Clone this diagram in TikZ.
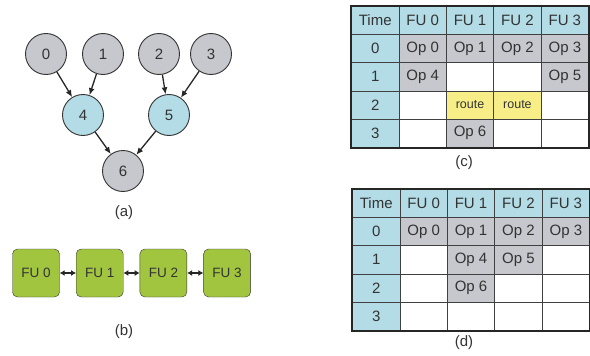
\documentclass[tikz,border=0pt]{standalone}
\usepackage{fontspec}
\setmainfont{Liberation Sans}
\usetikzlibrary{positioning,matrix,arrows.meta}
\definecolor{opgray}{HTML}{C7C8CD}
\definecolor{tmblue}{HTML}{B3DCE6}
\definecolor{rtyellow}{HTML}{F8EE88}
\definecolor{fugreen}{HTML}{A2C540}
\definecolor{inkgray}{HTML}{333333}
\newcommand{\lblfont}{\fontsize{15}{17}\selectfont}
\tikzstyle{vertex} = [draw=inkgray, circle, line width=0.9pt, minimum size=41pt, inner sep=0pt, text=inkgray, font=\lblfont]
\tikzstyle{leafop} = [vertex, fill=opgray]
\tikzstyle{midop} = [vertex, fill=tmblue]
\tikzstyle{fu} = [draw=inkgray, fill=fugreen, rounded corners=5pt, minimum width=47pt, minimum height=48pt, inner sep=0pt, text=inkgray, font=\fontsize{13.5}{15}\selectfont]
\tikzstyle{dep} = [-{Latex[length=7pt,width=6pt]}, line width=1.3pt, draw=black!85]
\tikzstyle{link} = [{Latex[length=5pt,width=6pt]}-{Latex[length=5pt,width=6pt]}, line width=2.2pt, draw=black!85]
\tikzstyle{cell} = [draw=black!75, line width=0.7pt, fill=white, minimum width=47.4pt, minimum height=28.1pt, inner sep=0pt, anchor=center, text=inkgray, font=\lblfont]
\tikzstyle{hd} = [fill=tmblue]
\tikzstyle{op} = [fill=opgray]
\tikzstyle{rt} = [fill=rtyellow, font=\fontsize{12.5}{14}\selectfont]
\tikzstyle{sched} = [matrix of nodes, nodes in empty cells, nodes=cell, column sep=-0.7pt, row sep=-0.7pt, inner sep=0pt, anchor=north west]
\tikzstyle{caption} = [text=inkgray, font=\lblfont]

\begin{document}
\begin{tikzpicture}[x=1pt, y=-1pt, node distance=63.7pt]
        \useasboundingbox (0,0) rectangle (590,356);

        % (a) dataflow graph
        \node [leafop] (n0) at (46,54) {0};
        \node [leafop] (n1) at (103,54) {1};
        \node [leafop] (n2) at (159,54) {2};
        \node [leafop] (n3) at (211,54) {3};
        \node [midop] (n4) at (83,115) {4};
        \node [midop] (n5) at (169,115) {5};
        \node [leafop] (n6) at (123,171) {6};

        \draw [dep] (n0) -- (n4);
        \draw [dep] (n1) -- (n4);
        \draw [dep] (n2) -- (n5);
        \draw [dep] (n3) -- (n5);
        \draw [dep] (n4) -- (n6);
        \draw [dep] (n5) -- (n6);

        \node [caption] (capa) at (124,213) {(a)};

        % (b) FU array
        \node [fu] (fu0) at (36,273) {FU 0};
        \node [fu, right of=fu0] (fu1) {FU 1};
        \node [fu, right of=fu1] (fu2) {FU 2};
        \node [fu, right of=fu2] (fu3) {FU 3};

        \draw [link] (fu0) -- (fu1);
        \draw [link] (fu1) -- (fu2);
        \draw [link] (fu2) -- (fu3);

        \node [caption] (capb) at (124,332) {(b)};

        % (c) schedule with routing
        \matrix [sched] (tc) at (351,6) {
            |[hd]| Time & |[hd]| FU 0 & |[hd]| FU 1 & |[hd]| FU 2 & |[hd]| FU 3 \\
            |[hd]| 0 & |[op]| Op 0 & |[op]| Op 1 & |[op]| Op 2 & |[op]| Op 3 \\
            |[hd]| 1 & |[op]| Op 4 & & & |[op]| Op 5 \\
            |[hd]| 2 & & |[rt]| route & |[rt]| route & \\
            |[hd]| 3 & & |[op]| Op 6 & & \\
        };
        \draw [line width=2.2pt, draw=black!85] (tc.north west) rectangle (tc.south east);
        \node [caption] (capc) at (464,163) {(c)};

        % (d) schedule without routing
        \matrix [sched] (td) at (352,189) {
            |[hd]| Time & |[hd]| FU 0 & |[hd]| FU 1 & |[hd]| FU 2 & |[hd]| FU 3 \\
            |[hd]| 0 & |[op]| Op 0 & |[op]| Op 1 & |[op]| Op 2 & |[op]| Op 3 \\
            |[hd]| 1 & & |[op]| Op 4 & |[op]| Op 5 & \\
            |[hd]| 2 & & |[op]| Op 6 & & \\
            |[hd]| 3 & & & & \\
        };
        \draw [line width=2.2pt, draw=black!85] (td.north west) rectangle (td.south east);
        \node [caption] (capd) at (464,343) {(d)};
    \end{tikzpicture}
\end{document}
